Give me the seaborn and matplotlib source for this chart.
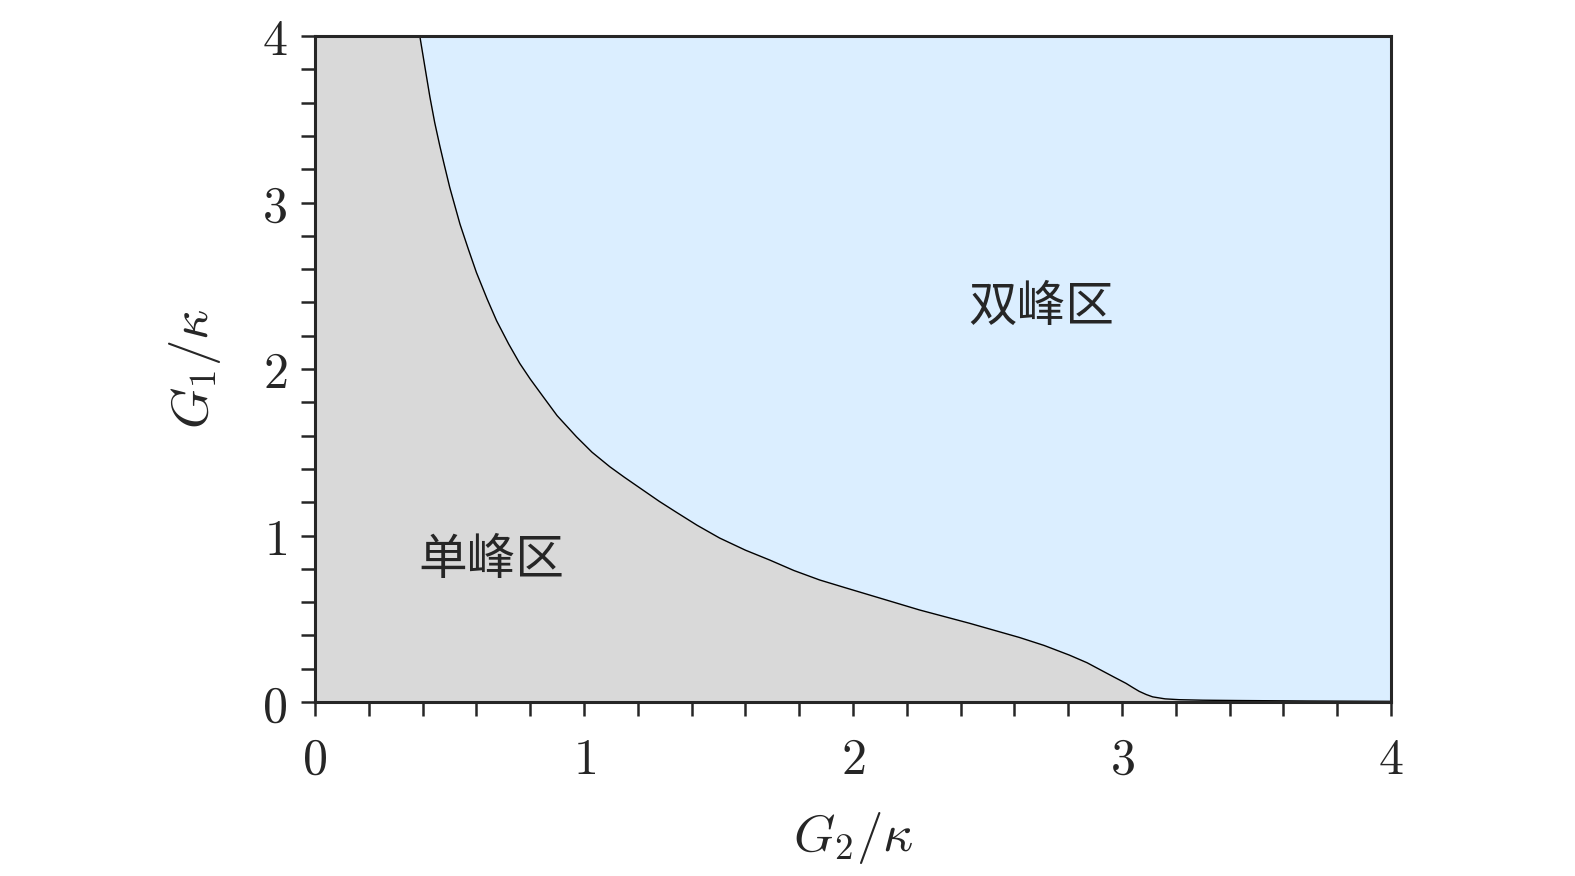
import numpy as np
import pandas as pd
import matplotlib
matplotlib.use("Agg")
import matplotlib.pyplot as plt
import seaborn as sns
from matplotlib.ticker import MultipleLocator

# Boundary between single-peak and double-peak regions
g2 = [0.390, 0.410, 0.427, 0.445, 0.464, 0.480, 0.501, 0.520, 0.539, 0.570,
      0.600, 0.640, 0.675, 0.720, 0.761, 0.800, 0.848, 0.900, 0.972, 1.030,
      1.096, 1.150, 1.219, 1.280, 1.343, 1.420, 1.504, 1.600, 1.690, 1.780,
      1.876, 1.970, 2.061, 2.150, 2.247, 2.340, 2.433, 2.520, 2.618, 2.710,
      2.804, 2.870, 2.928, 2.970, 3.015, 3.040, 3.064, 3.090, 3.114, 3.160,
      3.213, 3.300, 3.435, 3.700, 4.000]
g1 = [3.996, 3.800, 3.635, 3.480, 3.340, 3.230, 3.090, 2.980, 2.870, 2.720,
      2.580, 2.420, 2.290, 2.150, 2.034, 1.940, 1.834, 1.720, 1.593, 1.500,
      1.413, 1.350, 1.273, 1.205, 1.140, 1.062, 0.985, 0.912, 0.853, 0.790,
      0.733, 0.687, 0.643, 0.600, 0.553, 0.513, 0.473, 0.433, 0.388, 0.340,
      0.282, 0.236, 0.186, 0.150, 0.112, 0.087, 0.064, 0.045, 0.031, 0.019,
      0.014, 0.011, 0.009, 0.006, 0.004]

x_ticks = [0, 1, 2, 3, 4]
y_ticks = [0, 1, 2, 3, 4]
region_labels = ["双峰区", "单峰区"]
label_pos = [(2.70, 2.37), (0.654, 0.853)]

df = pd.DataFrame({"G2": g2, "G1": g1})

sns.set_style("ticks")
plt.rcParams["font.family"] = ["DejaVu Serif"]
plt.rcParams["mathtext.fontset"] = "cm"

fig = plt.figure(figsize=(15.75, 8.76), dpi=100)
ax = fig.add_axes([0.2, 0.1986, 0.6832, 0.7603])
ax.set_facecolor("#dbeeff")

# gray region: everything left of / below the boundary
fill_x = [0.0] + g2
fill_y = [4.0] + g1
ax.fill_between(fill_x, 0, fill_y, color="#d9d9d9", linewidth=0)
sns.lineplot(data=df, x="G2", y="G1", ax=ax, color="black", linewidth=1.0)

ax.set_xlim(0, 4)
ax.set_ylim(0, 4)
ax.set_xticks(x_ticks)
ax.set_yticks(y_ticks)
ax.set_xticklabels([f"${t}$" for t in x_ticks])
ax.set_yticklabels([f"${t}$" for t in y_ticks])
ax.xaxis.set_minor_locator(MultipleLocator(0.2))
ax.yaxis.set_minor_locator(MultipleLocator(0.2))
ax.tick_params(which="both", direction="out", length=10, width=1.8, labelsize=36)
ax.tick_params(axis="x", pad=14)
ax.tick_params(axis="y", pad=10)

for s in ax.spines.values():
    s.set_linewidth(2.2)
    s.set_visible(True)

ax.set_xlabel(r"$G_2/\kappa$", fontsize=38, labelpad=18)
ax.set_ylabel(r"$G_1/\kappa$", fontsize=38, labelpad=28)

for txt, (px, py) in zip(region_labels, label_pos):
    ax.text(px, py, txt, fontsize=35, ha="center", va="center",
            family=["Noto Sans CJK SC", "DejaVu Sans"])

fig.savefig("out.png", dpi=100, facecolor="white")
